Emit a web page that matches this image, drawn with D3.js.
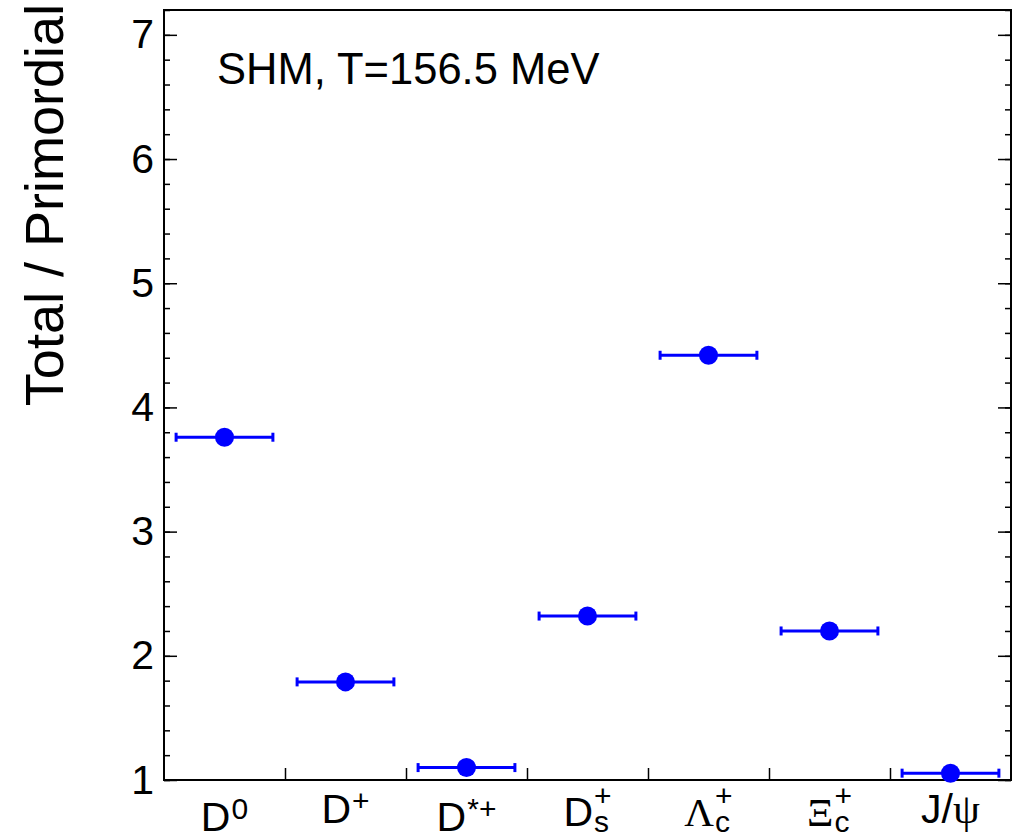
<!DOCTYPE html>
<html>
<head>
<meta charset="utf-8">
<script src="https://cdn.jsdelivr.net/npm/d3@7"></script>
<style>
  body { margin: 0; background: #fff; }
  text { font-family: "Liberation Sans", Arial, sans-serif; fill: #000; }
</style>
</head>
<body>
<div id="chart"></div>
<script>
// particle species along x
var species = ['D0', 'D+', 'D*+', 'Ds+', 'Lc+', 'Xic+', 'J/psi'];
// Total / Primordial ratio
var ratio = [3.76, 1.79, 1.10, 2.32, 4.42, 2.20, 1.055];
var yMajorTicks = [1, 2, 3, 4, 5, 6, 7];
var yRange = [1, 7.2];

// how each label is written: main text, superscript, subscript, font of the main part
var labelParts = [
  { main: 'D', sup: '0', sub: '' , greek: false },
  { main: 'D', sup: '+', sub: '', greek: false },
  { main: 'D', sup: '*+', sub: '', greek: false },
  { main: 'D', sup: '+', sub: 's', greek: false },
  { main: '\u039B', sup: '+', sub: 'c', greek: true },
  { main: '\u039E', sup: '+', sub: 'c', greek: true },
  { main: 'J/', sup: '', sub: '', greek: false, tail: '\u03C8' }
];
var labelBaseline = [831, 823, 831, 826, 826, 826, 823];

var width = 1020, height = 837;
var padLeft = 164, padRight = 1011, padTop = 10, padBottom = 780;

var svg = d3.select('#chart')
  .append('svg')
  .attr('width', width)
  .attr('height', height);

var x = d3.scaleBand()
  .domain(species)
  .range([padLeft, padRight])
  .padding(0);

var xBins = d3.scaleLinear()
  .domain([0, species.length])
  .range([padLeft, padRight]);

var y = d3.scaleLinear()
  .domain(yRange)
  .range([padBottom, padTop]);

var minorTicks = d3.range(10, 73, 2).map(function (d) { return d / 10; });

// left axis, ticks pointing inward
svg.append('g')
  .attr('class', 'axis')
  .attr('transform', 'translate(' + padLeft + ',0)')
  .call(d3.axisLeft(y).tickValues(minorTicks).tickSize(-6).tickFormat(''));

svg.append('g')
  .attr('class', 'axis')
  .attr('transform', 'translate(' + padLeft + ',0)')
  .call(d3.axisLeft(y).tickValues(yMajorTicks).tickSize(-13).tickPadding(10).tickFormat(d3.format('d')))
  .selectAll('text')
  .style('font-size', '41px')
  .style('font-family', '"Liberation Sans", Arial, sans-serif');

// right axis, mirrored ticks
svg.append('g')
  .attr('class', 'axis')
  .attr('transform', 'translate(' + padRight + ',0)')
  .call(d3.axisRight(y).tickValues(minorTicks).tickSize(-6).tickFormat(''));

svg.append('g')
  .attr('class', 'axis')
  .attr('transform', 'translate(' + padRight + ',0)')
  .call(d3.axisRight(y).tickValues(yMajorTicks).tickSize(-13).tickFormat(''));

// bin boundaries on the bottom axis
svg.append('g')
  .attr('class', 'axis')
  .attr('transform', 'translate(0,' + padBottom + ')')
  .call(d3.axisBottom(xBins).tickValues(d3.range(1, species.length)).tickSize(-12).tickFormat(''));

svg.selectAll('.axis .domain').remove();
svg.selectAll('.axis line').attr('stroke', '#000').attr('stroke-width', 1.5);

svg.append('rect')
  .attr('x', padLeft)
  .attr('y', padTop)
  .attr('width', padRight - padLeft)
  .attr('height', padBottom - padTop)
  .attr('fill', 'none')
  .attr('stroke', '#000')
  .attr('stroke-width', 2);

// x labels
species.forEach(function (s, i) {
  var p = labelParts[i];
  var base = labelBaseline[i];
  var g = svg.append('g');
  var main = g.append('text')
    .attr('x', 0)
    .attr('y', base)
    .style('font-size', '41px')
    .style('font-family', p.greek ? '"Liberation Serif", serif' : null)
    .text(p.main);
  var w = main.node().getComputedTextLength();
  if (p.tail) {
    var tail = g.append('text')
      .attr('x', w)
      .attr('y', base)
      .style('font-size', '43px')
      .style('font-family', '"Liberation Serif", serif')
      .text(p.tail);
    w += tail.node().getComputedTextLength();
  }
  var extra = 0;
  if (p.sup) {
    var sup = g.append('text')
      .attr('x', w + 1)
      .attr('y', base - (p.sub ? 20 : 12))
      .style('font-size', '30px')
      .text(p.sup);
    extra = Math.max(extra, sup.node().getComputedTextLength() + 1);
  }
  if (p.sub) {
    var sub = g.append('text')
      .attr('x', w + 1)
      .attr('y', base + 6)
      .style('font-size', '30px')
      .text(p.sub);
    extra = Math.max(extra, sub.node().getComputedTextLength() + 1);
  }
  var total = w + extra;
  g.attr('transform', 'translate(' + (x(s) + x.bandwidth() / 2 - total / 2) + ',0)');
});

// y title
svg.append('text')
  .attr('transform', 'translate(63,4) rotate(-90)')
  .attr('text-anchor', 'end')
  .style('font-size', '54px')
  .text('Total / Primordial');

// annotation
svg.append('text')
  .attr('x', 217)
  .attr('y', 84)
  .style('font-size', '43.5px')
  .text('SHM, T=156.5 MeV');

// points with horizontal bin-width bars
var halfBar = x.bandwidth() * 0.4;
var points = svg.append('g')
  .selectAll('g')
  .data(ratio)
  .enter()
  .append('g');

points.append('line')
  .attr('x1', function (d, i) { return x(species[i]) + x.bandwidth() / 2 - halfBar; })
  .attr('x2', function (d, i) { return x(species[i]) + x.bandwidth() / 2 + halfBar; })
  .attr('y1', function (d) { return y(d); })
  .attr('y2', function (d) { return y(d); })
  .attr('stroke', '#0000ff')
  .attr('stroke-width', 3);

[-1, 1].forEach(function (side) {
  points.append('line')
    .attr('x1', function (d, i) { return x(species[i]) + x.bandwidth() / 2 + side * halfBar; })
    .attr('x2', function (d, i) { return x(species[i]) + x.bandwidth() / 2 + side * halfBar; })
    .attr('y1', function (d) { return y(d) - 4.5; })
    .attr('y2', function (d) { return y(d) + 4.5; })
    .attr('stroke', '#0000ff')
    .attr('stroke-width', 3);
});

points.append('circle')
  .attr('cx', function (d, i) { return x(species[i]) + x.bandwidth() / 2; })
  .attr('cy', function (d) { return y(d); })
  .attr('r', 9.5)
  .attr('fill', '#0000ff');
</script>
</body>
</html>
